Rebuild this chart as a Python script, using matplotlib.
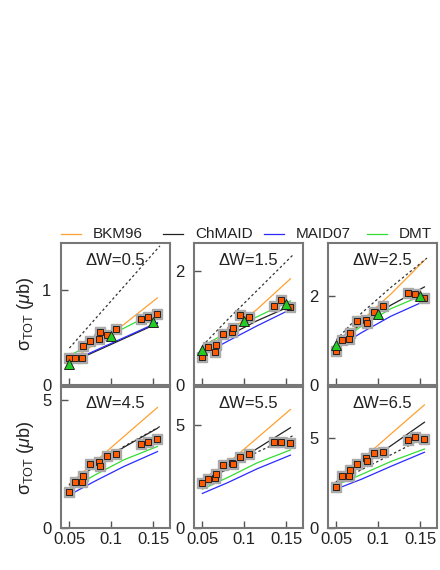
import numpy as np
import matplotlib
matplotlib.use('Agg')
import matplotlib.pyplot as plt

plt.rcParams['font.family'] = ['Liberation Sans', 'DejaVu Sans']
plt.rcParams['mathtext.fontset'] = 'custom'
plt.rcParams['mathtext.rm'] = 'Liberation Sans'
plt.rcParams['mathtext.it'] = 'Liberation Sans:italic'

dw_labels = ['0.5', '1.5', '2.5', '4.5', '5.5', '6.5']
ylims = [1.5, 2.5, 3.2, 5.5, 6.85, 7.8]
yticks = [[0, 1], [0, 2], [0, 2], [0, 5], [0, 5], [0, 5]]

# measured points (photon energy above threshold)
x_data = [0.05, 0.057, 0.065, 0.066, 0.075, 0.085, 0.086, 0.095, 0.105, 0.135, 0.144, 0.154]
y_data = [
    [0.29, 0.29, 0.29, 0.41, 0.47, 0.49, 0.555, 0.53, 0.59, 0.70, 0.72, 0.75],
    [0.49, 0.67, 0.58, 0.71, 0.89, 0.93, 1.00, 1.23, 1.20, 1.39, 1.50, 1.37],
    [0.77, 1.02, 1.03, 1.17, 1.45, 1.47, 1.40, 1.645, 1.77, 2.075, 2.05, 1.96],
    [1.42, 1.78, 1.81, 2.04, 2.50, 2.57, 2.41, 2.81, 2.89, 3.27, 3.37, 3.48],
    [2.20, 2.38, 2.44, 2.61, 3.06, 3.14, 3.09, 3.43, 3.59, 4.19, 4.19, 4.11],
    [2.25, 2.90, 2.90, 3.21, 3.52, 3.89, 3.71, 4.17, 4.23, 4.87, 5.06, 4.93],
]
y_err = [0.03, 0.05, 0.05, 0.08, 0.08, 0.08]

# older data (triangles), only first three bins
x_tri = [0.05, 0.1, 0.15]
y_tri = [
    [0.22, 0.52, 0.67],
    [0.62, 1.12, 1.42],
    [0.91, 1.61, 2.015],
]

# model curves
x_mod = [0.05, 0.08, 0.115, 0.155]
bkm96 = [
    [0.25, 0.43, 0.64, 0.92],
    [0.60, 0.92, 1.33, 1.87],
    [0.87, 1.45, 2.05, 2.81],
    [1.71, 2.57, 3.57, 4.70],
    [2.09, 3.14, 4.36, 5.76],
    [2.56, 3.78, 5.20, 6.81],
]
chmaid = [
    [0.23, 0.35, 0.49, 0.65],
    [0.62, 0.86, 1.13, 1.39],
    [0.94, 1.38, 1.80, 2.21],
    [1.68, 2.40, 3.15, 3.89],
    [2.12, 2.90, 3.85, 4.87],
    [2.56, 3.45, 4.55, 5.85],
]
maid07 = [
    [0.24, 0.36, 0.50, 0.66],
    [0.53, 0.77, 1.04, 1.33],
    [0.83, 1.18, 1.55, 1.89],
    [1.29, 1.82, 2.40, 2.98],
    [1.68, 2.20, 2.87, 3.54],
    [2.16, 2.70, 3.41, 4.19],
]
dmt = [
    [0.31, 0.45, 0.60, 0.78],
    [0.68, 0.93, 1.20, 1.48],
    [0.90, 1.33, 1.72, 2.04],
    [1.48, 2.06, 2.66, 3.18],
    [1.89, 2.45, 3.16, 3.79],
    [2.38, 2.96, 3.68, 4.37],
]
x_dot = [0.05, 0.08, 0.115, 0.158]
dotted = [
    [0.39, 0.69, 1.04, 1.47],
    [0.69, 1.15, 1.66, 2.29],
    [1.02, 1.62, 2.20, 2.86],
    [1.70, 2.42, 3.18, 3.96],
    [2.12, 2.88, 3.68, 4.48],
    [2.47, 3.23, 4.05, 5.06],
]

fig = plt.figure(figsize=(4.4, 5.7), dpi=100)

lefts = [61, 194, 328]
rows = [(243, 385), (387, 528)]
W, H = 440.0, 570.0

for i in range(6):
    r, c = i // 3, i % 3
    top, bot = rows[r]
    ax = fig.add_axes([lefts[c] / W, 1 - bot / H, 109 / W, (bot - top) / H])

    ax.plot(x_mod, bkm96[i], color='#ffa030', lw=0.9)
    ax.plot(x_mod, chmaid[i], color='#222222', lw=0.9)
    ax.plot(x_mod, maid07[i], color='#2a2aff', lw=0.9)
    ax.plot(x_mod, dmt[i], color='#33dd33', lw=0.9)
    ax.plot(x_dot, dotted[i], color='#333333', lw=0.9, ls=(0, (2, 2)))

    ax.errorbar(x_data, y_data[i], yerr=y_err[i], fmt='none', ecolor='#999999', elinewidth=1.0)
    ax.plot(x_data, y_data[i], 's', ms=6.5, mfc='#aaaaaa', mec='#aaaaaa', ls='none')
    ax.plot(x_data, y_data[i], 's', ms=5, mfc='#ff5a00', mec='#222222', mew=0.7, ls='none')
    if i < 3:
        ax.plot(x_tri, y_tri[i], '^', ms=6.5, mfc='#22cc22', mec='#222222', mew=0.7, ls='none')

    ax.set_xlim(0.04, 0.17)
    ax.set_ylim(0, ylims[i])
    ax.set_xticks([0.05, 0.1, 0.15])
    ax.set_yticks(yticks[i])
    ax.set_yticklabels([str(v) for v in yticks[i]])
    if r == 1:
        ax.set_xticklabels(['0.05', '0.1', '0.15'])
    else:
        ax.set_xticklabels([])
    ax.tick_params(direction='in', length=5, width=1, color='#555555',
                   labelsize=12, labelcolor='#222222')
    ax.tick_params(axis='x', pad=3)
    ax.tick_params(axis='y', pad=7)
    for s in ax.spines.values():
        s.set_color('#777777')
        s.set_linewidth(1.5)
    ax.text(0.5, 0.88, '\u0394W=' + dw_labels[i], transform=ax.transAxes,
            ha='center', va='center', fontsize=12, color='#222222')
    if c == 0:
        ax.set_ylabel(r'$\mathregular{\sigma_{TOT}}$ ($\mu$b)', fontsize=13, color='#222222', labelpad=4)

# legend row on top
leg_names = ['BKM96', 'ChMAID', 'MAID07', 'DMT']
leg_colors = ['#ffa030', '#222222', '#2a2aff', '#33dd33']
leg_x = [61, 163, 264, 367]
for name, col, lx in zip(leg_names, leg_colors, leg_x):
    yy = 1 - 234 / H
    fig.add_artist(plt.Line2D([lx / W, (lx + 20) / W], [yy, yy], color=col, lw=0.9))
    fig.text((lx + 32) / W, yy, name, ha='left', va='center', fontsize=11, color='#222222')

fig.savefig('out.png', dpi=100)
